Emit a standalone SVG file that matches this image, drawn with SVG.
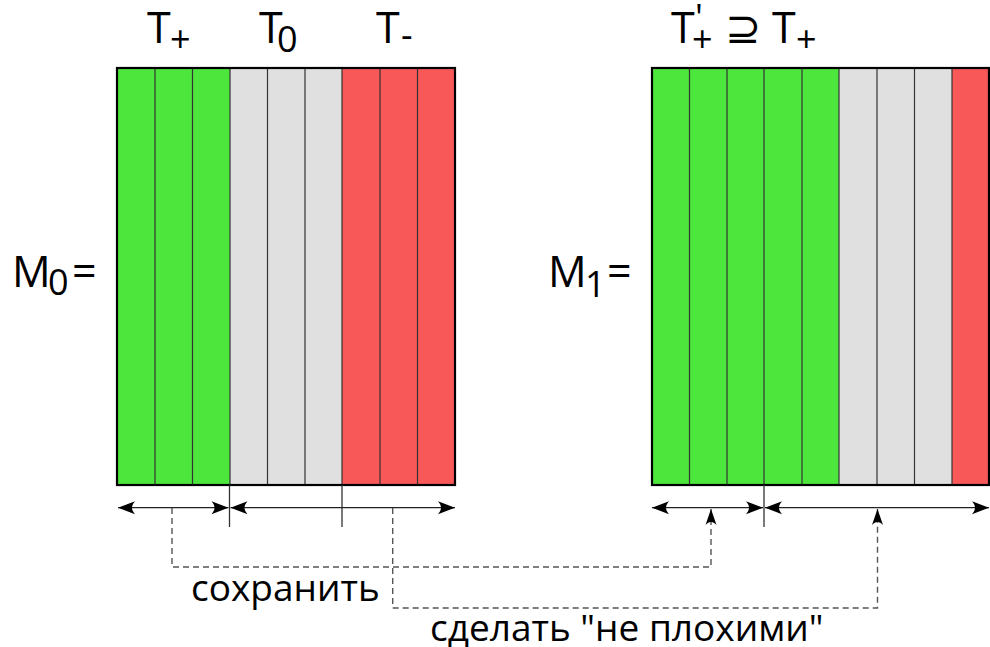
<svg xmlns="http://www.w3.org/2000/svg" width="990" height="647" viewBox="0 0 990 647">
<style>
text{font-family:"Open Sans","Noto Sans","DejaVu Sans",sans-serif;fill:#000}
.big{font-size:43px}
.sub{font-size:36px}
.lbl{font-size:37px}
.g{fill:#4ce63c}
.z{fill:#e0e0e0}
.r{fill:#f95858}
.col{stroke:#333;stroke-width:1.2}
.frame{fill:none;stroke:#000;stroke-width:2.2}
.dim{stroke:#222;stroke-width:1.3;fill:none}
.tick{stroke:#333;stroke-width:1.3}
.dash{stroke:#555;stroke-width:1.4;fill:none;stroke-dasharray:6,4}
</style>
<defs>
<marker id="ah" markerUnits="userSpaceOnUse" markerWidth="20" markerHeight="16" viewBox="-18 -8 20 16" refX="0" refY="0" orient="auto-start-reverse">
<path d="M0,0 L-17,-6.5 C-13,-2 -13,2 -17,6.5 Z" fill="#000"/>
</marker>
<marker id="ad" markerUnits="userSpaceOnUse" markerWidth="20" markerHeight="16" viewBox="-18 -8 20 16" refX="0" refY="0" orient="auto">
<path d="M0,0 L-16,-5.5 C-12,-2 -12,2 -16,5.5 Z" fill="#000"/>
</marker>
</defs>

<g id="M0">
<rect class="g" x="117" y="68" width="113" height="417"/>
<rect class="z" x="230" y="68" width="112" height="417"/>
<rect class="r" x="342" y="68" width="113" height="417"/>
<path class="col" d="M155,68V485M192.5,68V485M230,68V485M267.5,68V485M305,68V485M342,68V485M380,68V485M417.5,68V485"/>
<rect class="frame" x="117" y="68" width="338" height="417"/>
<text class="big" x="12" y="287">M<tspan class="sub" x="48" y="295">0</tspan><tspan x="72" y="287">=</tspan></text>
</g>

<g id="M1">
<rect class="g" x="652" y="68" width="187" height="417"/>
<rect class="z" x="839" y="68" width="113" height="417"/>
<rect class="r" x="952" y="68" width="37" height="417"/>
<path class="col" d="M689.5,68V485M727,68V485M764,68V485M802,68V485M839,68V485M877,68V485M914.5,68V485M952,68V485"/>
<rect class="frame" x="652" y="68" width="337" height="417"/>
<text class="big" x="548" y="287">M<tspan class="sub" x="585" y="297">1</tspan><tspan x="607" y="287">=</tspan></text>
</g>

<g id="labels-top">
<text class="big" x="147" y="43">T<tspan class="sub" x="170" y="52">+</tspan></text>
<text class="big" x="259" y="43">T<tspan class="sub" x="277" y="52">0</tspan></text>
<text class="big" x="376" y="43">T<tspan class="sub" x="401" y="48">-</tspan></text>
<text class="big" x="671" y="43">T<tspan class="sub" x="695" y="30">'</tspan><tspan class="sub" x="692" y="52">+</tspan><tspan x="725" y="43">⊇</tspan><tspan x="772" y="43">T</tspan><tspan class="sub" x="796" y="52">+</tspan></text>
</g>

<g id="connectors">
<path class="tick" d="M229.5,485V527M342,485V527M764,485V527"/>
<path class="dim" d="M118,507.7H228.5" marker-start="url(#ah)" marker-end="url(#ah)"/>
<path class="dim" d="M230.5,507.7H455" marker-start="url(#ah)" marker-end="url(#ah)"/>
<path class="dim" d="M652,507.7H763" marker-start="url(#ah)" marker-end="url(#ah)"/>
<path class="dim" d="M765,507.7H989" marker-start="url(#ah)" marker-end="url(#ah)"/>
<path class="dash" d="M172,508V567H711V509" marker-end="url(#ad)"/>
<path class="dash" d="M392.7,508V608H877.5V509" marker-end="url(#ad)"/>
</g>

<g id="labels-bottom">
<text class="lbl" x="191" y="601">сохранить</text>
<text class="lbl" x="430" y="641">сделать "не плохими"</text>
</g>
</svg>
